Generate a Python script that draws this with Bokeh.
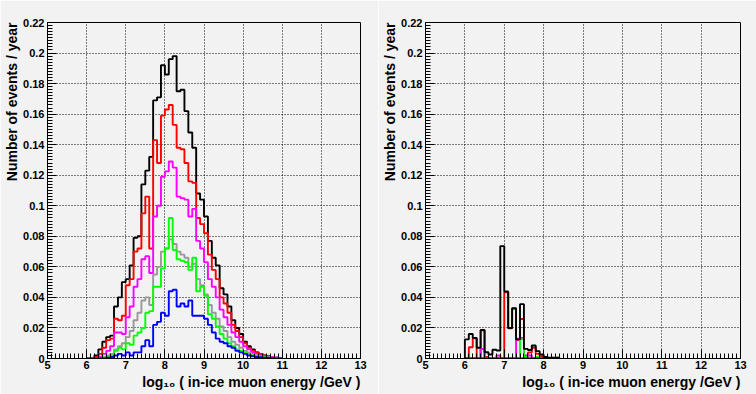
from bokeh.plotting import figure
from bokeh.layouts import row
from bokeh.models import FixedTicker, PrintfTickFormatter, Title
from bokeh.embed import file_html
from bokeh.resources import INLINE

# ---------------- data ----------------
BIN_W = 0.1
left_start = 6.0
left_black = [0.000, 0.000, 0.002, 0.006, 0.011, 0.014, 0.015, 0.034, 0.040, 0.050,
              0.052, 0.061, 0.079, 0.080, 0.114, 0.123, 0.132, 0.169, 0.171, 0.192,
              0.186, 0.196, 0.198, 0.175, 0.176, 0.162, 0.148, 0.138, 0.108, 0.104,
              0.093, 0.077, 0.066, 0.061, 0.046, 0.042, 0.034, 0.025, 0.020, 0.016,
              0.011, 0.008, 0.006, 0.004, 0.003, 0.002, 0.0015, 0.001, 0.0005, 0.0003]
left_red = [0.000, 0.000, 0.001, 0.003, 0.007, 0.012, 0.013, 0.026, 0.025, 0.028,
            0.048, 0.052, 0.070, 0.072, 0.095, 0.106, 0.072, 0.143, 0.128, 0.159,
            0.163, 0.166, 0.153, 0.138, 0.137, 0.128, 0.116, 0.115, 0.092, 0.088,
            0.082, 0.068, 0.058, 0.052, 0.040, 0.036, 0.030, 0.022, 0.018, 0.014,
            0.010, 0.007, 0.005, 0.004, 0.003, 0.002, 0.0015, 0.001, 0.0005, 0.0002]
left_magenta = [0.000, 0.000, 0.000, 0.001, 0.003, 0.005, 0.008, 0.017, 0.017, 0.016,
                0.027, 0.034, 0.047, 0.052, 0.065, 0.067, 0.056, 0.093, 0.100, 0.119,
                0.1225, 0.129, 0.125, 0.106, 0.105, 0.104, 0.093, 0.098, 0.077, 0.072,
                0.063, 0.052, 0.047, 0.040, 0.032, 0.027, 0.022, 0.017, 0.014, 0.011,
                0.008, 0.006, 0.004, 0.003, 0.002, 0.0015, 0.001, 0.0008, 0.0005, 0.0002]
left_gray = [0.000, 0.000, 0.000, 0.000, 0.001, 0.002, 0.003, 0.006, 0.008, 0.010,
             0.014, 0.018, 0.025, 0.030, 0.038, 0.040, 0.035, 0.055, 0.060, 0.070,
             0.072, 0.078, 0.075, 0.070, 0.068, 0.066, 0.060, 0.062, 0.052, 0.048,
             0.042, 0.035, 0.030, 0.026, 0.021, 0.018, 0.014, 0.011, 0.009, 0.007,
             0.005, 0.004, 0.003, 0.002, 0.0015, 0.001, 0.0007, 0.0005, 0.0003, 0.0001]
left_green = [0.000, 0.000, 0.000, 0.000, 0.000, 0.001, 0.002, 0.005, 0.007, 0.006,
              0.010, 0.009, 0.015, 0.017, 0.020, 0.030, 0.031, 0.047, 0.047, 0.059,
              0.072, 0.092, 0.071, 0.065, 0.064, 0.063, 0.058, 0.066, 0.044, 0.047,
              0.041, 0.029, 0.026, 0.021, 0.016, 0.013, 0.010, 0.008, 0.006, 0.005,
              0.004, 0.003, 0.002, 0.0015, 0.001, 0.0008, 0.0005, 0.0003, 0.0002, 0.0001]
left_blue = [0.000, 0.000, 0.000, 0.000, 0.000, 0.0005, 0.001, 0.002, 0.003, 0.002,
             0.004, 0.002, 0.004, 0.004, 0.008, 0.012, 0.008, 0.022, 0.024, 0.030,
             0.028, 0.044, 0.045, 0.034, 0.036, 0.034, 0.038, 0.028, 0.028, 0.028,
             0.026, 0.022, 0.017, 0.013, 0.011, 0.010, 0.008, 0.007, 0.005, 0.004,
             0.003, 0.002, 0.0015, 0.001, 0.0008, 0.0005, 0.0003, 0.0002, 0.0001, 0.0]

right_start = 6.0
right_black = [0.0125, 0.016, 0.0135, 0.007, 0.0187, 0.0041, 0.0026, 0.0057, 0.0052, 0.0736,
               0.0439, 0.020, 0.033, 0.0125, 0.0356, 0.0063, 0.0056, 0.0085, 0.0048, 0.0026,
               0.001, 0.0005, 0.0005, 0.0005]
right_red = [0.000, 0.0074, 0.0133, 0.000, 0.0184, 0.001, 0.000, 0.000, 0.000, 0.000,
             0.0433, 0.0197, 0.0326, 0.0122, 0.0259, 0.000, 0.004, 0.007, 0.003, 0.0015,
             0.001, 0.0, 0.0, 0.0]
right_magenta = [0.000, 0.000, 0.000, 0.000, 0.0063, 0.000, 0.000, 0.000, 0.002, 0.000,
                 0.000, 0.000, 0.000, 0.013, 0.0135, 0.002, 0.002, 0.000, 0.000, 0.000,
                 0.0, 0.0, 0.0, 0.0]
right_green = [0.000, 0.000, 0.000, 0.000, 0.000, 0.000, 0.000, 0.000, 0.000, 0.000,
               0.000, 0.000, 0.000, 0.000, 0.0125, 0.001, 0.000, 0.000, 0.001, 0.000,
               0.0005, 0.0, 0.0, 0.0005]
right_blue = [0.0] * 20 + [0.001, 0.0, 0.0, 0.0]

x_ticks = [5, 6, 7, 8, 9, 10, 11, 12, 13]
y_ticks = [0, 0.02, 0.04, 0.06, 0.08, 0.1, 0.12, 0.14, 0.16, 0.18, 0.2, 0.22]
x_title = "log\u2081\u2080 ( in-ice muon energy /GeV )"
y_title = "Number of events / year"

BG = "#f2f2f2"
FONT = "Liberation Sans"


def hist_line(p, start, vals, color):
    edges = [start + BIN_W * i for i in range(len(vals) + 1)]
    xs = [edges[0]] + edges
    ys = [0.0] + list(vals) + [0.0]
    p.step(x=xs, y=ys, mode="after", line_color=color, line_width=1.9)


def make_panel(border_left, border_right):
    p = figure(width=378, height=394, x_range=(5, 13), y_range=(0, 0.22),
               output_backend="svg", toolbar_location=None,
               min_border_left=border_left, min_border_right=border_right,
               min_border_top=22, min_border_bottom=36)
    p.background_fill_color = BG
    p.border_fill_color = BG
    p.outline_line_color = "black"
    p.outline_line_width = 1
    for ax, ticks, minors in ((p.xaxis[0], x_ticks, [5 + 0.1 * i for i in range(81)]),
                              (p.yaxis[0], y_ticks, [0.002 * i for i in range(111)])):
        ax.ticker = FixedTicker(ticks=ticks, minor_ticks=minors)
        ax.major_tick_in = 9
        ax.major_tick_out = 0
        ax.minor_tick_in = 5
        ax.minor_tick_out = 0
        ax.major_label_text_font = FONT
        ax.major_label_text_font_style = "bold"
        ax.major_label_text_font_size = "11px"
        ax.major_label_text_color = "black"
        ax.axis_line_color = "black"
    p.xaxis.major_label_standoff = 2
    p.yaxis.major_label_standoff = 3
    p.yaxis.formatter = PrintfTickFormatter(format="%g")
    p.xaxis.formatter = PrintfTickFormatter(format="%g")
    p.grid.grid_line_color = "black"
    p.grid.grid_line_dash = "1 2"
    p.grid.grid_line_width = 1
    p.xgrid.ticker = FixedTicker(ticks=x_ticks)
    p.ygrid.ticker = FixedTicker(ticks=y_ticks)

    p.add_layout(Title(text=y_title, align="right", standoff=2, text_color="black",
                       text_font=FONT, text_font_style="bold", text_font_size="14px"), "left")
    p.add_layout(Title(text=x_title, align="right", standoff=0, text_color="black",
                       text_font=FONT, text_font_style="bold", text_font_size="14px"), "below")
    return p


left = make_panel(45, 18)
hist_line(left, left_start, left_black, "black")
hist_line(left, left_start, left_red, "red")
hist_line(left, left_start, left_magenta, "#ff00ff")
hist_line(left, left_start, left_gray, "#999999")
hist_line(left, left_start, left_green, "#00ff00")
hist_line(left, left_start, left_blue, "blue")

right = make_panel(45, 16)
hist_line(right, right_start, right_red, "red")
hist_line(right, right_start, right_magenta, "#ff00ff")
hist_line(right, right_start, right_green, "#00ff00")
hist_line(right, right_start, right_blue, "blue")
hist_line(right, right_start, right_black, "black")

layout = row(left, right)
open("out.html", "w").write(file_html(layout, INLINE))
